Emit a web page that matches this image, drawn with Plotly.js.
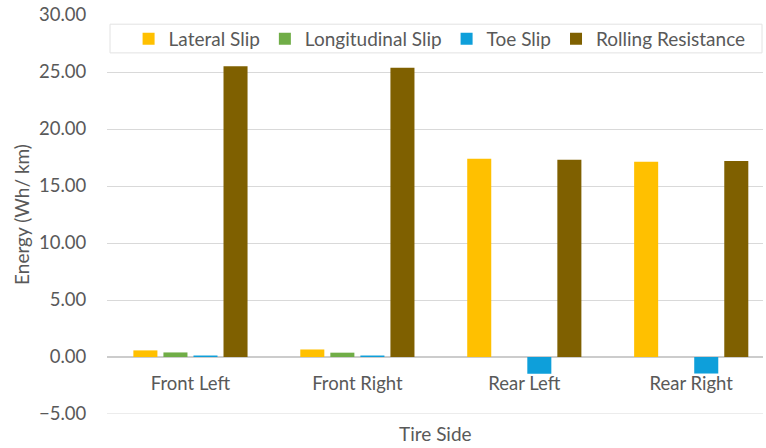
<!DOCTYPE html>
<html>
<head>
<meta charset="utf-8">
<script src="https://cdn.plot.ly/plotly-3.0.1.min.js"></script>
<style>
  html, body { margin: 0; padding: 0; background: #ffffff; }
  #chart { width: 766px; height: 448px; }
</style>
</head>
<body>
<div id="chart"></div>
<script>
// Energy loss per tire, split by loss mechanism
const tireSides = ["Front Left", "Front Right", "Rear Left", "Rear Right"];
const lateralSlip = [0.58, 0.66, 17.38, 17.12];
const longitudinalSlip = [0.40, 0.38, 0.00, 0.00];
const toeSlip = [0.13, 0.13, -1.47, -1.45];
const rollingResistance = [25.50, 25.38, 17.30, 17.20];
const yTickValues = [-5, 0, 5, 10, 15, 20, 25, 30];

const FONT = "Lato, 'Open Sans', sans-serif";
const TEXT = "#595959";
const GRID = "#d9d9d9";

function series(name, values, color) {
  return {
    type: "bar",
    name: name,
    x: tireSides,
    y: values,
    marker: { color: color, line: { width: 0 } },
    hoverinfo: "x+y+name"
  };
}

const data = [
  series("Lateral Slip", lateralSlip, "#FFC000"),
  series("Longitudinal Slip", longitudinalSlip, "#70AD47"),
  series("Toe Slip", toeSlip, "#0E9FDA"),
  series("Rolling Resistance", rollingResistance, "#7F6000")
];

const layout = {
  width: 766,
  height: 448,
  margin: { l: 107, r: 3, t: 15, b: 34 },
  paper_bgcolor: "#ffffff",
  plot_bgcolor: "#ffffff",
  font: { family: FONT, size: 18.5, color: TEXT },
  barmode: "group",
  bargap: 0.28,
  bargroupgap: 0.2,
  showlegend: true,
  legend: {
    orientation: "h",
    x: 0.507,
    xanchor: "center",
    y: 0.94,
    yanchor: "middle",
    bgcolor: "rgba(0,0,0,0)",
    borderwidth: 0,
    font: { family: FONT, size: 19, color: TEXT },
    traceorder: "normal"
  },
  xaxis: {
    type: "category",
    range: [-0.5, 3.43],
    anchor: "free",
    position: 5 / 35,
    showline: false,
    showgrid: false,
    zeroline: false,
    ticks: "outside",
    ticklen: 10,
    tickcolor: "rgba(0,0,0,0)",
    tickfont: { family: FONT, size: 18.5, color: TEXT },
    fixedrange: true
  },
  yaxis: {
    range: [-5, 30],
    tickvals: yTickValues,
    tickformat: ".2f",
    showgrid: true,
    gridcolor: GRID,
    gridwidth: 1,
    zeroline: true,
    zerolinecolor: "#cccccc",
    zerolinewidth: 2,
    showline: false,
    ticks: "outside",
    ticklen: 16,
    tickcolor: "rgba(0,0,0,0)",
    tickfont: { family: FONT, size: 18.5, color: TEXT },
    title: { text: "Energy (Wh/ km)", standoff: 4, font: { family: FONT, size: 19, color: TEXT } },
    fixedrange: true
  },
  shapes: [
    {
      // legend frame spanning the plot width
      type: "rect",
      xref: "paper", yref: "paper",
      x0: 0.0046, x1: 0.9985,
      y0: 0.905, y1: 0.977,
      line: { color: "#e2e2e2", width: 1 },
      fillcolor: "#ffffff",
      layer: "below"
    },
    {
      // gridline at the lower edge of the value range
      type: "line",
      xref: "paper", yref: "y",
      x0: 0, x1: 1,
      y0: -5, y1: -5,
      line: { color: GRID, width: 1 },
      layer: "below"
    }
  ],
  annotations: [
    {
      text: "Tire Side",
      xref: "paper", yref: "paper",
      x: 0.5, y: -0.048,
      xanchor: "center", yanchor: "middle",
      showarrow: false,
      font: { family: FONT, size: 19, color: TEXT }
    }
  ]
};

Plotly.newPlot("chart", data, layout, { displayModeBar: false, staticPlot: true });
</script>
</body>
</html>
